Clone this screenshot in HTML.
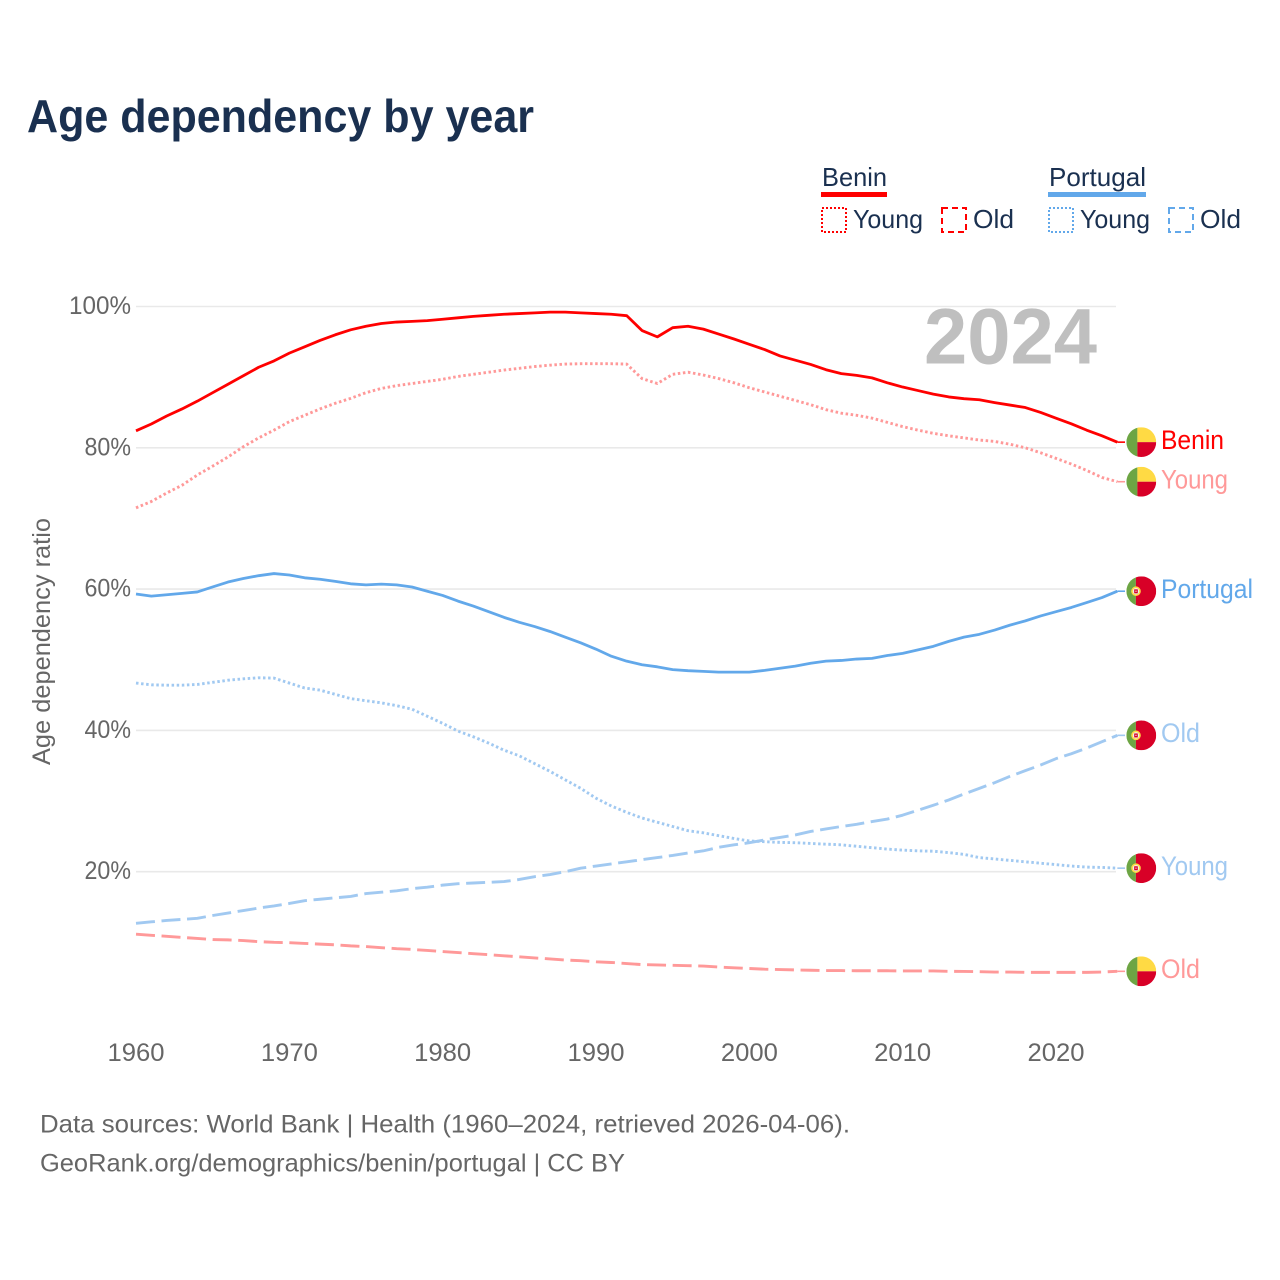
<!DOCTYPE html>
<html lang="en">
<head>
<meta charset="utf-8">
<title>Age dependency by year</title>
<style>
html,body{margin:0;padding:0;background:#fff}
svg{display:block}
text{font-family:"Liberation Sans",sans-serif}
</style>
</head>
<body>
<svg id="chart" xmlns="http://www.w3.org/2000/svg" width="1280" height="1280" viewBox="0 0 1280 1280">
<rect x="0" y="0" width="1280" height="1280" fill="#fff"/>
<text x="27" y="132" font-size="46" font-weight="700" fill="#1a3050" textLength="507" lengthAdjust="spacingAndGlyphs">Age dependency by year</text>

<g font-size="26" fill="#1a3050">
<text x="822" y="186" textLength="65" lengthAdjust="spacingAndGlyphs">Benin</text>
<rect x="821" y="192" width="66" height="5" fill="#ff0000"/>
<rect x="822" y="208" width="24" height="24" fill="none" stroke="#ff0000" stroke-width="2" stroke-dasharray="2 2"/>
<text x="853" y="228" textLength="70" lengthAdjust="spacingAndGlyphs">Young</text>
<rect x="942" y="208" width="24" height="24" fill="none" stroke="#ff0000" stroke-width="2" stroke-dasharray="6 4"/>
<text x="973" y="228" textLength="41" lengthAdjust="spacingAndGlyphs">Old</text>
<text x="1049" y="186" textLength="97" lengthAdjust="spacingAndGlyphs">Portugal</text>
<rect x="1048" y="192" width="98" height="5" fill="#62a8ea"/>
<rect x="1049" y="208" width="24" height="24" fill="none" stroke="#62a8ea" stroke-width="2" stroke-dasharray="2 2"/>
<text x="1080" y="228" textLength="70" lengthAdjust="spacingAndGlyphs">Young</text>
<rect x="1169" y="208" width="24" height="24" fill="none" stroke="#62a8ea" stroke-width="2" stroke-dasharray="6 4"/>
<text x="1200" y="228" textLength="41" lengthAdjust="spacingAndGlyphs">Old</text>
</g>

<text transform="translate(50,641.5) rotate(-90)" text-anchor="middle" font-size="25" fill="#666" textLength="247" lengthAdjust="spacingAndGlyphs">Age dependency ratio</text>

<g id="grid"></g>
<g id="yticks"></g>
<g id="xticks"></g>

<text x="924" y="363.5" font-size="79" font-weight="700" fill="#bfbfbf" textLength="173" lengthAdjust="spacingAndGlyphs">2024</text>

<g id="series"></g>
<g id="ends"></g>

<text x="40" y="1132.5" font-size="25" fill="#666" textLength="810" lengthAdjust="spacingAndGlyphs">Data sources: World Bank | Health (1960–2024, retrieved 2026-04-06).</text>
<text x="40" y="1171.5" font-size="25" fill="#666" textLength="585" lengthAdjust="spacingAndGlyphs">GeoRank.org/demographics/benin/portugal | CC BY</text>
</svg>
<script>
var firstYear = 1960;
var yTickValues = [20, 40, 60, 80, 100];
var yTickLabels = ["20%", "40%", "60%", "80%", "100%"];
var xTickValues = [1960, 1970, 1980, 1990, 2000, 2010, 2020];
var xTickLabels = ["1960", "1970", "1980", "1990", "2000", "2010", "2020"];

var beninTotal = [82.4,83.37,84.5,85.5,86.6,87.8,89.0,90.2,91.4,92.3,93.4,94.3,95.2,96.0,96.7,97.2,97.6,97.8,97.9,98.0,98.2,98.4,98.6,98.75,98.9,99.0,99.1,99.2,99.2,99.1,99.0,98.9,98.7,96.6,95.7,97.0,97.2,96.8,96.1,95.4,94.65,93.9,93.0,92.4,91.8,91.05,90.5,90.25,89.9,89.2,88.6,88.1,87.6,87.2,86.95,86.8,86.4,86.05,85.7,85.0,84.2,83.4,82.5,81.7,80.8];
var beninYoung = [71.5,72.4,73.6,74.7,76.15,77.4,78.7,80.15,81.4,82.5,83.7,84.6,85.5,86.3,87.0,87.8,88.4,88.8,89.1,89.4,89.7,90.1,90.4,90.7,91.0,91.25,91.5,91.7,91.85,91.9,91.9,91.9,91.85,89.8,89.1,90.4,90.7,90.3,89.8,89.2,88.5,87.9,87.3,86.7,86.1,85.4,84.9,84.6,84.2,83.6,83.0,82.5,82.05,81.7,81.4,81.1,80.9,80.5,80.0,79.3,78.5,77.7,76.8,75.8,75.2];
var beninOld = [11.15,11.0,10.85,10.7,10.55,10.4,10.35,10.25,10.1,10.0,9.95,9.85,9.75,9.65,9.5,9.4,9.25,9.1,9.0,8.85,8.7,8.55,8.4,8.25,8.1,7.95,7.8,7.65,7.5,7.4,7.25,7.15,7.0,6.85,6.8,6.75,6.7,6.65,6.5,6.4,6.3,6.2,6.15,6.1,6.05,6.0,6.0,5.98,5.98,5.98,5.95,5.95,5.95,5.9,5.88,5.85,5.8,5.8,5.75,5.75,5.75,5.75,5.75,5.8,5.9];
var portugalTotal = [59.3,59.0,59.2,59.4,59.6,60.3,61.0,61.5,61.9,62.2,62.0,61.6,61.4,61.1,60.75,60.6,60.7,60.6,60.3,59.7,59.1,58.3,57.6,56.8,56.0,55.3,54.7,54.0,53.2,52.4,51.5,50.5,49.8,49.3,49.0,48.6,48.45,48.35,48.25,48.25,48.25,48.5,48.8,49.1,49.5,49.8,49.9,50.1,50.2,50.6,50.9,51.4,51.9,52.6,53.2,53.6,54.2,54.9,55.5,56.2,56.8,57.4,58.1,58.8,59.7];
var portugalYoung = [46.7,46.45,46.4,46.4,46.5,46.8,47.1,47.3,47.45,47.4,46.7,46.0,45.7,45.1,44.5,44.2,43.9,43.5,43.0,42.0,41.0,39.9,39.1,38.2,37.2,36.4,35.3,34.2,33.0,31.8,30.4,29.3,28.4,27.6,27.0,26.4,25.8,25.5,25.1,24.7,24.35,24.25,24.15,24.1,24.0,23.9,23.8,23.6,23.4,23.2,23.05,22.95,22.9,22.7,22.45,22.0,21.8,21.6,21.4,21.2,21.0,20.8,20.65,20.6,20.5];
var portugalOld = [12.7,12.9,13.1,13.25,13.4,13.8,14.15,14.5,14.85,15.15,15.5,15.9,16.1,16.3,16.5,16.9,17.1,17.3,17.6,17.8,18.1,18.3,18.4,18.5,18.6,18.9,19.3,19.6,20.0,20.5,20.8,21.1,21.4,21.7,22.0,22.3,22.65,22.95,23.45,23.8,24.1,24.5,24.85,25.2,25.7,26.05,26.4,26.7,27.1,27.45,28.0,28.7,29.4,30.15,31.0,31.8,32.6,33.5,34.3,35.1,36.0,36.7,37.5,38.4,39.3];

var NS = "http://www.w3.org/2000/svg";
function xScale(year) { return 136 + (year - 1960) * (920 / 60); }
function yScale(v) { return 306.5 + (100 - v) * 7.065; }
function make(tag, attrs, parent) {
  var el = document.createElementNS(NS, tag);
  for (var k in attrs) el.setAttribute(k, attrs[k]);
  parent.appendChild(el);
  return el;
}
var gridG = document.getElementById("grid");
var yG = document.getElementById("yticks");
var xG = document.getElementById("xticks");
var seriesG = document.getElementById("series");
var endsG = document.getElementById("ends");

yTickValues.forEach(function (v, i) {
  var g = make("line", {x1: 136, x2: 1116, y1: yScale(v), y2: yScale(v), stroke: "#e9e9e9", "stroke-width": 1.6}, gridG);
  
  
  var t = make("text", {x: 131, y: yScale(v) + 7.5, "text-anchor": "end", "font-size": 25, fill: "#666", textLength: yTickLabels[i].length * 15.5, lengthAdjust: "spacingAndGlyphs"}, yG);
  
  
  t.textContent = yTickLabels[i];
});
xTickValues.forEach(function (v, i) {
  var t = make("text", {x: xScale(v), y: 1061, "text-anchor": "middle", "font-size": 25, fill: "#666", textLength: 57, lengthAdjust: "spacingAndGlyphs"}, xG);
  
  
  t.textContent = xTickLabels[i];
});

function drawLine(values, color, width, dash) {
  var d = values.map(function (v, i) {
    return (i ? "L" : "M") + xScale(firstYear + i).toFixed(2) + " " + yScale(v).toFixed(2);
  }).join("");
  var attrs = {d: d, fill: "none", stroke: color, "stroke-width": width, "stroke-linejoin": "round"};
  if (dash) attrs["stroke-dasharray"] = dash;
  return make("path", attrs, seriesG);
}
var lineBeninTotal = drawLine(beninTotal, "#ff0000", 2.8, "");


var lineBeninYoung = drawLine(beninYoung, "#ff9999", 2.9, "2.5 2.6");


var lineBeninOld = drawLine(beninOld, "#ff9999", 2.9, "19 6.6");


var linePortugalTotal = drawLine(portugalTotal, "#62a8ea", 2.8, "");


var linePortugalYoung = drawLine(portugalYoung, "#a1c9f1", 2.9, "2.5 2.6");


var linePortugalOld = drawLine(portugalOld, "#a1c9f1", 2.9, "19 6.6");



var clipId = 0;
function drawEnd(values, country, label, color, labelWidth) {
  var y = yScale(values[values.length - 1]);
  var x0 = xScale(firstYear + values.length - 1);
  var g = make("g", {}, endsG);
  make("line", {x1: x0, x2: 1125, y1: y, y2: y, stroke: color, "stroke-width": 1.6}, g);
  var cx = 1141.3, r = 14.9;
  clipId++;
  var clip = make("clipPath", {id: "flagclip" + clipId}, g);
  make("circle", {cx: cx, cy: y, r: r}, clip);
  var f = make("g", {"clip-path": "url(#flagclip" + clipId + ")"}, g);
  if (country === "benin") {
    make("rect", {x: cx - r, y: y - r, width: 11, height: 2 * r, fill: "#6da544"}, f);
    make("rect", {x: cx - r + 11, y: y - r, width: 2 * r - 11, height: r, fill: "#ffda44"}, f);
    make("rect", {x: cx - r + 11, y: y, width: 2 * r - 11, height: r, fill: "#d80027"}, f);
  } else {
    make("rect", {x: cx - r, y: y - r, width: 9.5, height: 2 * r, fill: "#6da544"}, f);
    make("rect", {x: cx - r + 9.5, y: y - r, width: 2 * r - 9.5, height: 2 * r, fill: "#d80027"}, f);
    make("circle", {cx: cx - 5.3, cy: y, r: 4, fill: "#f0f0f0", stroke: "#ffda44", "stroke-width": 1.6}, f);
    make("rect", {x: cx - 7.1, y: y - 1.9, width: 3.6, height: 4, fill: "#d80027"}, f);
    make("rect", {x: cx - 5.9, y: y - 0.6, width: 1.2, height: 1.2, fill: "#f0f0f0"}, f);
  }
  var t = make("text", {x: 1161, y: y + 6.8, "font-size": 26.5, fill: color, textLength: labelWidth, lengthAdjust: "spacingAndGlyphs"}, g);
  t.textContent = label;
  return g;
}
var endBeninTotal = drawEnd(beninTotal, "benin", "Benin", "#ff0000", 63);


var endBeninYoung = drawEnd(beninYoung, "benin", "Young", "#ff9999", 67);


var endBeninOld = drawEnd(beninOld, "benin", "Old", "#ff9999", 39);


var endPortugalTotal = drawEnd(portugalTotal, "portugal", "Portugal", "#62a8ea", 92);


var endPortugalYoung = drawEnd(portugalYoung, "portugal", "Young", "#a1c9f1", 67);


var endPortugalOld = drawEnd(portugalOld, "portugal", "Old", "#a1c9f1", 39);


</script>
</body>
</html>
